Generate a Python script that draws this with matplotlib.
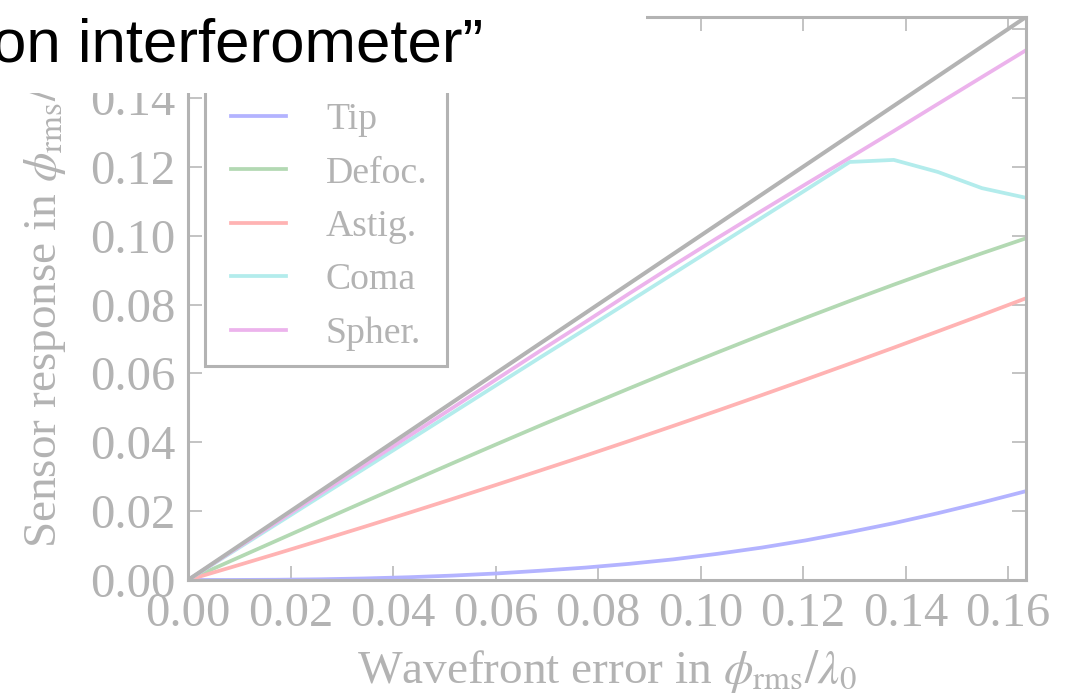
import matplotlib
matplotlib.use("Agg")
import matplotlib.pyplot as plt
from matplotlib.patches import Rectangle
from matplotlib.legend_handler import HandlerLine2D
from matplotlib.lines import Line2D

# Wavefront error (phi_rms / lambda_0) at which the sensor was evaluated
wavefront_error = [0.0, 0.0086, 0.0172, 0.0258, 0.0344, 0.0430, 0.0516,
                   0.0602, 0.0688, 0.0775, 0.0861, 0.0947, 0.1033, 0.1119,
                   0.1205, 0.1291, 0.1377, 0.1463, 0.1549, 0.1635]

# Sensor response per aberration type
tip = [0.0, 0.00001, 0.00007, 0.00021, 0.00045, 0.0008, 0.00128,
       0.0019, 0.0027, 0.0036, 0.0047, 0.0060, 0.0076, 0.0094,
       0.0115, 0.0139, 0.0165, 0.0194, 0.0225, 0.0258]
defoc = [0.0, 0.00570, 0.01138, 0.01706, 0.02270, 0.02832, 0.03390,
         0.03943, 0.04490, 0.05031, 0.05565, 0.06092, 0.06609, 0.07117,
         0.07615, 0.08102, 0.08577, 0.09040, 0.09488, 0.09923]
astig = [0.0, 0.00377, 0.00760, 0.01150, 0.01545, 0.01946, 0.02353,
         0.02766, 0.03184, 0.03609, 0.04039, 0.04476, 0.04918, 0.05367,
         0.05821, 0.06281, 0.06747, 0.07220, 0.07697, 0.08182]
coma = [0.0, 0.00809, 0.01618, 0.02427, 0.03235, 0.04045, 0.04853,
        0.05663, 0.06471, 0.07280, 0.08089, 0.08898, 0.09706, 0.10516,
        0.11324, 0.12140, 0.12200, 0.11850, 0.11380, 0.11100]
spher = [0.0, 0.00835, 0.01669, 0.02505, 0.03335, 0.04170, 0.04998,
         0.05831, 0.06664, 0.07489, 0.08321, 0.09135, 0.09934, 0.10717,
         0.11493, 0.12263, 0.13038, 0.13824, 0.14606, 0.15385]

series_labels = ["Tip", "Defoc.", "Astig.", "Coma", "Spher."]
series_colors = ["#b3b3ff", "#b3d9b3", "#ffb3b3", "#b3ecec", "#ecb3ec"]

tick_values = [0.00, 0.02, 0.04, 0.06, 0.08, 0.10, 0.12, 0.14, 0.16]
tick_labels = ["0.00", "0.02", "0.04", "0.06", "0.08", "0.10", "0.12", "0.14", "0.16"]

GRAY = "#b3b3b3"

plt.rcParams["font.family"] = ["Liberation Serif", "DejaVu Serif"]
plt.rcParams["mathtext.fontset"] = "stix"

W, H = 1077, 693
fig = plt.figure(figsize=(W / 100, H / 100), dpi=100)
ax = fig.add_axes([188 / W, 113 / H, 838 / W, 563 / H])

lim = wavefront_error[-1]
ax.plot(wavefront_error, wavefront_error, color=GRAY, lw=2.9, zorder=3)
for vals, lab, col in zip([tip, defoc, astig, coma, spher], series_labels, series_colors):
    ax.plot(wavefront_error, vals, color=col, lw=2.7, label=lab, zorder=2)

ax.set_xlim(0, lim)
ax.set_ylim(0, lim)
ax.set_xticks(tick_values)
ax.set_xticklabels(tick_labels)
ax.set_yticks(tick_values)
ax.set_yticklabels(tick_labels)
ax.tick_params(direction="in", top=True, right=True, length=10, width=1.1,
               color=GRAY, labelcolor=GRAY, labelsize=35, pad=9)
for sp in ax.spines.values():
    sp.set_color(GRAY)
    sp.set_linewidth(2.2)

ax.set_xlabel(r"Wavefront error in $\phi_{\rm rms}/\lambda_0$", fontsize=34,
              color=GRAY, labelpad=8)
ax.set_ylabel(r"Sensor response in $\phi_{\rm rms}/\lambda_0$", fontsize=34,
              color=GRAY, labelpad=16)

# legend handles are inset a little from the frame
leg = ax.legend(loc="lower left",
                bbox_to_anchor=(205 / W, (H - 366) / H, 242 / W, 0.0),
                bbox_transform=fig.transFigure, mode="expand",
                borderaxespad=0, fontsize=27.2,
                handlelength=1.75, handletextpad=1.05, borderpad=0.4,
                labelspacing=0.5, fancybox=False, framealpha=1,
                handler_map={Line2D: HandlerLine2D(xpad=0.28)})
leg.get_frame().set_edgecolor(GRAY)
leg.get_frame().set_linewidth(2.2)
for t in leg.get_texts():
    t.set_color(GRAY)

# slide text box overlapping the upper left of the plot
fig.add_artist(Rectangle((0, (H - 93) / H), 646 / W, 93 / H,
                         transform=fig.transFigure, facecolor="white",
                         edgecolor="none", zorder=10))
fig.text(-8 / W, (H - 62) / H, "on interferometer\u201d", fontsize=44.5,
         family=["Liberation Sans", "DejaVu Sans"], color="black",
         va="baseline", ha="left", zorder=11)

fig.savefig("out.png", dpi=100)
